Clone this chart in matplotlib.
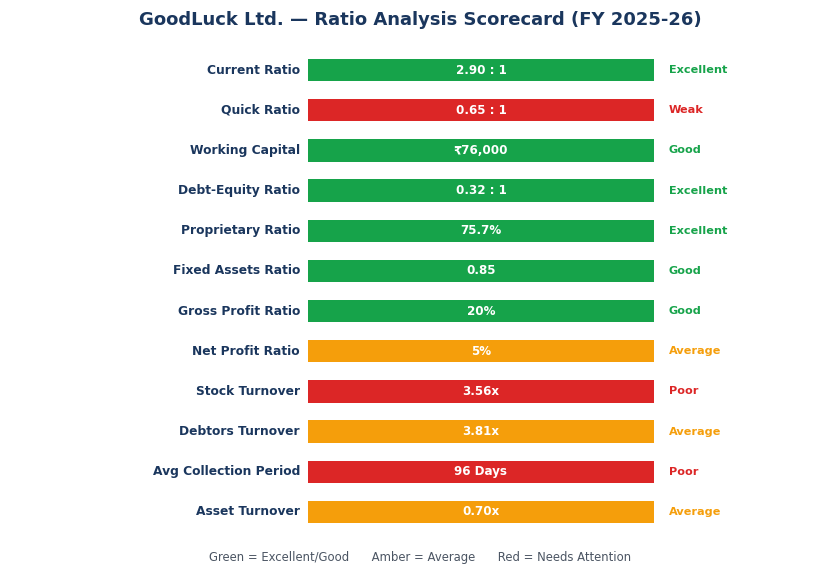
import matplotlib.pyplot as plt

# ratio scorecard data
ratios = [
    "Current Ratio", "Quick Ratio", "Working Capital", "Debt-Equity Ratio",
    "Proprietary Ratio", "Fixed Assets Ratio", "Gross Profit Ratio",
    "Net Profit Ratio", "Stock Turnover", "Debtors Turnover",
    "Avg Collection Period", "Asset Turnover",
]
values = [
    "2.90 : 1", "0.65 : 1", "₹76,000", "0.32 : 1", "75.7%", "0.85",
    "20%", "5%", "3.56x", "3.81x", "96 Days", "0.70x",
]
ratings = [
    "Excellent", "Weak", "Good", "Excellent", "Excellent", "Good",
    "Good", "Average", "Poor", "Average", "Poor", "Average",
]

GREEN = "#16a34a"
RED = "#dc2626"
AMBER = "#f59e0b"
NAVY = "#1a365d"
rating_colors = {
    "Excellent": GREEN, "Good": GREEN, "Average": AMBER,
    "Weak": RED, "Poor": RED,
}

fig = plt.figure(figsize=(8.4, 5.7), dpi=100)
ax = fig.add_axes([308 / 840, 1 - 532 / 570, 346 / 840, 482 / 570])

for i, (name, val, rate) in enumerate(zip(ratios, values, ratings)):
    c = rating_colors[rate]
    ax.barh(i, 1.0, left=0, height=0.56, color=c)
    ax.text(0.5, i, val, ha="center", va="center", color="white",
            fontsize=8.6, fontweight="bold")
    ax.text(-0.023, i, name, ha="right", va="center", color=NAVY,
            fontsize=8.8, fontweight="bold")
    ax.text(1.043, i, rate, ha="left", va="center", color=c,
            fontsize=8.1, fontweight="bold")

ax.set_xlim(0, 1)
ax.set_ylim(len(ratios) - 0.5, -0.5)
ax.axis("off")

fig.text(0.5, 1 - 20 / 570, "GoodLuck Ltd. — Ratio Analysis Scorecard (FY 2025-26)",
         ha="center", va="center", fontsize=13, fontweight="bold", color=NAVY)
fig.text(0.5, 1 - 557 / 570,
         "Green = Excellent/Good      Amber = Average      Red = Needs Attention",
         ha="center", va="center", fontsize=8.4, color="#4b5563")

fig.savefig("out.png", dpi=100)
